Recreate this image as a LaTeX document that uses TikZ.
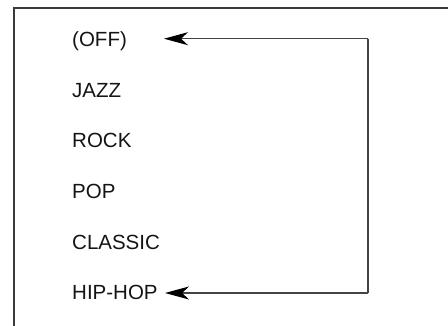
\documentclass[tikz,border=0pt]{standalone}
\usepackage{fontspec}
\setmainfont{Liberation Sans}
\usetikzlibrary{arrows.meta}
\definecolor{framec}{HTML}{3A3A3A}
\definecolor{linec}{HTML}{444444}
\definecolor{textc}{HTML}{141414}
\begin{document}
\begin{tikzpicture}[x=1pt,y=-1pt,
  label/.style={anchor=base west,inner sep=0pt,text=textc,font=\fontsize{20.5}{24}\selectfont},
  framel/.style={draw=framec,line width=2pt},
  loopl/.style={draw=linec,line width=1.1pt},
  tip/.style={-{Stealth[length=24pt,width=13pt,inset=7pt,black]}}]
\useasboundingbox (0,0) rectangle (448,326);
\draw[framel] (14,326) -- (14,8) -- (448,8);
\node[label] (off) at (72,46.5) {(OFF)};
\node[label] (jazz) at (72,97.2) {JAZZ};
\node[label] (rock) at (72,147.9) {ROCK};
\node[label] (pop) at (72,198.6) {POP};
\node[label] (classic) at (72,249.3) {CLASSIC};
\node[label] (hiphop) at (72,300) {HIP-HOP};
\coordinate (offtip) at (164,38.7);
\coordinate (hhtip) at (165,293);
\coordinate (tr) at (368,38.7);
\coordinate (br) at (368,293);
\draw[loopl,tip] (tr) -- (offtip);
\draw[loopl,tip] (br) -- (hhtip);
\draw[loopl] (tr) -- (br);
\end{tikzpicture}
\end{document}
